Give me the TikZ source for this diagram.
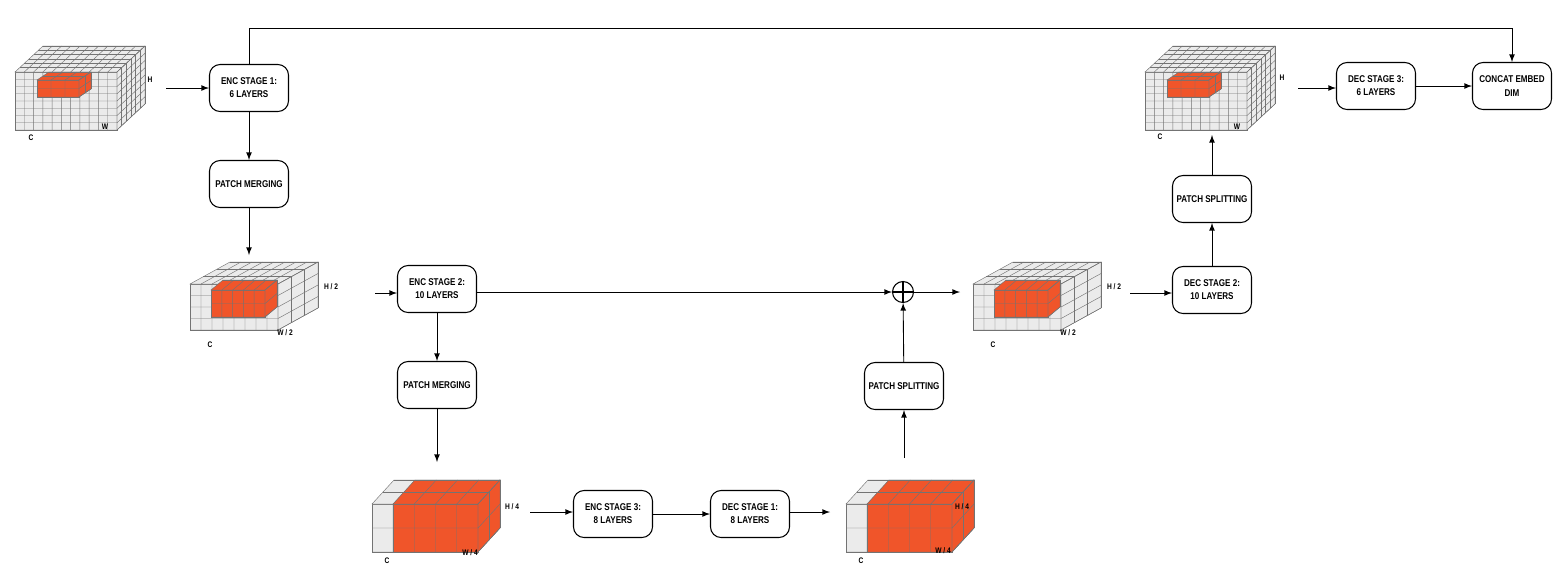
\documentclass[tikz,border=0pt]{standalone}
\usepackage{fontspec}
\setmainfont{Liberation Sans}[FakeStretch=0.82]
\begin{document}
\newcommand\cubcol{black!8}
\newcommand\cub[9]{%
\filldraw[cubl,fill=\cubcol] (#1,#2) rectangle ++(#3,#4);
\filldraw[cubl,fill=\cubcol] (#1,#2) -- ++(#5,#6) -- ++(#3,0) -- (#1+#3,#2) -- cycle;
\filldraw[cubl,fill=\cubcol] (#1+#3,#2) -- ++(#5,#6) -- ++(0,#4) -- (#1+#3,#2+#4) -- cycle;
\foreach \i in {1,...,#7}{\draw[cubl] ({#1+\i*#3/#7},#2+#4) -- ({#1+\i*#3/#7},#2) -- ++(#5,#6);}
\foreach \j in {1,...,#8}{\draw[cubl] (#1,{#2+\j*#4/#8}) -- ++(#3,0) -- ++(#5,#6);}
\foreach \k in {1,...,#9}{\draw[cubl] ({#1+\k*#5/#9},{#2+\k*#6/#9}) -- ++(#3,0) -- ++(0,#4);}
}
\definecolor{org}{HTML}{F0552A}
\begin{tikzpicture}[x=0.02cm,y=-0.02cm,
  cubl/.style={draw=black!55,line width=0.25pt},
  box/.style={draw,rounded corners=6pt,line width=0.6pt,minimum width=1.58cm,minimum height=0.94cm,inner sep=1pt,align=center,font=\fontsize{5.6}{7.5}\selectfont\bfseries},
  lab/.style={font=\fontsize{4.6}{6}\selectfont\bfseries},
  ar/.style={-latex,line width=0.5pt}]
\useasboundingbox (0,0) rectangle (1560,576);
% cube 1
\renewcommand\cubcol{black!8}\cub{15}{72}{102}{58}{28}{-26}{11}{8}{6}
\renewcommand\cubcol{org}\cub{37}{80}{42}{17}{12}{-8}{3}{2}{2}
\node[lab] (h1) at (150,80) {H}; \node[lab] (w1) at (105,127) {W}; \node[lab] (c1) at (31,138) {C};
% cube 6
\renewcommand\cubcol{black!8}\cub{1145}{72}{102}{58}{28}{-26}{11}{8}{6}
\renewcommand\cubcol{org}\cub{1167}{80}{42}{17}{12}{-8}{3}{2}{2}
\node[lab] (h6) at (1282,78) {H}; \node[lab] (w6) at (1237,127) {W}; \node[lab] (c6) at (1160,137) {C};
% cube 2
\renewcommand\cubcol{black!8}\cub{190}{284}{88}{46}{40}{-22}{8}{4}{3}
\renewcommand\cubcol{org}\cub{211}{290}{54}{27}{12}{-10}{5}{2}{1}
\node[lab] (h2) at (331,287) {H / 2}; \node[lab] (w2) at (285,333) {W / 2}; \node[lab] (c2) at (210,345) {C};
% cube 5
\renewcommand\cubcol{black!8}\cub{973}{284}{88}{46}{40}{-22}{8}{4}{3}
\renewcommand\cubcol{org}\cub{994}{290}{54}{27}{12}{-10}{5}{2}{1}
\node[lab] (h5) at (1114,287) {H / 2}; \node[lab] (w5) at (1068,333) {W / 2}; \node[lab] (c5) at (993,345) {C};
% cube 3
\renewcommand\cubcol{black!8}\cub{372}{504}{106}{48}{22}{-24}{5}{2}{2}
\renewcommand\cubcol{org}\cub{393}{504}{85}{48}{22}{-24}{4}{2}{2}
\node[lab] (h3) at (512,507) {H / 4}; \node[lab] (w3) at (470,553) {W / 4}; \node[lab] (c3) at (387,561) {C};
% cube 4
\renewcommand\cubcol{black!8}\cub{846}{504}{106}{48}{22}{-24}{5}{2}{2}
\renewcommand\cubcol{org}\cub{867}{504}{85}{48}{22}{-24}{4}{2}{2}
\node[lab] (h4) at (962,507) {H / 4}; \node[lab] (w4) at (943,551) {W / 4}; \node[lab] (c4) at (861,561) {C};
% boxes
\node[box] (e1) at (249,88) {ENC STAGE 1:\\6 LAYERS};
\node[box] (pm1) at (249,184) {PATCH MERGING};
\node[box] (e2) at (437,289) {ENC STAGE 2:\\10 LAYERS};
\node[box] (pm2) at (437,385) {PATCH MERGING};
\node[box] (e3) at (613,514) {ENC STAGE 3:\\8 LAYERS};
\node[box] (d1) at (750,514) {DEC STAGE 1:\\8 LAYERS};
\node[box] (ps1) at (904,386) {PATCH SPLITTING};
\node[circle,draw,line width=0.6pt,minimum size=0.42cm,inner sep=0pt] (op) at (903,292) {};
\draw[line width=0.6pt] (op.north) -- (op.south) (op.west) -- (op.east);
\node[box] (d2) at (1212,290) {DEC STAGE 2:\\10 LAYERS};
\node[box] (ps2) at (1212,199) {PATCH SPLITTING};
\node[box] (d3) at (1376,86) {DEC STAGE 3:\\6 LAYERS};
\node[box] (cc) at (1512,86) {CONCAT EMBED\\DIM};
% connectors
\coordinate (a1) at (166,88); \draw[ar] (a1) -- (e1);
\draw[ar] (e1.north) -- (249,28) -| (cc.north);
\draw[ar] (e1) -- (pm1);
\coordinate (a2) at (249,255); \draw[ar] (pm1) -- (a2);
\coordinate (a3) at (375,293); \draw[ar] (a3) -- (e2.west|-a3);
\draw[ar] (e2.east|-op) -- (op);
\draw[ar] (e2) -- (pm2);
\coordinate (a4) at (437,462); \draw[ar] (pm2) -- (a4);
\coordinate (a5) at (530,512); \draw[ar] (a5) -- (e3.west|-a5);
\draw[ar] (e3) -- (d1);
\coordinate (a6) at (830,512); \draw[ar] (d1.east|-a6) -- (a6);
\coordinate (a7) at (904,458); \draw[ar] (a7) -- (ps1);
\draw[ar] (ps1) -- (op);
\coordinate (a8) at (960,292); \draw[ar] (op) -- (a8);
\coordinate (a9) at (1130,293); \draw[ar] (a9) -- (d2.west|-a9);
\draw[ar] (d2) -- (ps2);
\coordinate (a10) at (1212,135); \draw[ar] (ps2) -- (a10);
\coordinate (a11) at (1298,88); \draw[ar] (a11) -- (d3.west|-a11);
\draw[ar] (d3) -- (cc);
\end{tikzpicture}
\end{document}
